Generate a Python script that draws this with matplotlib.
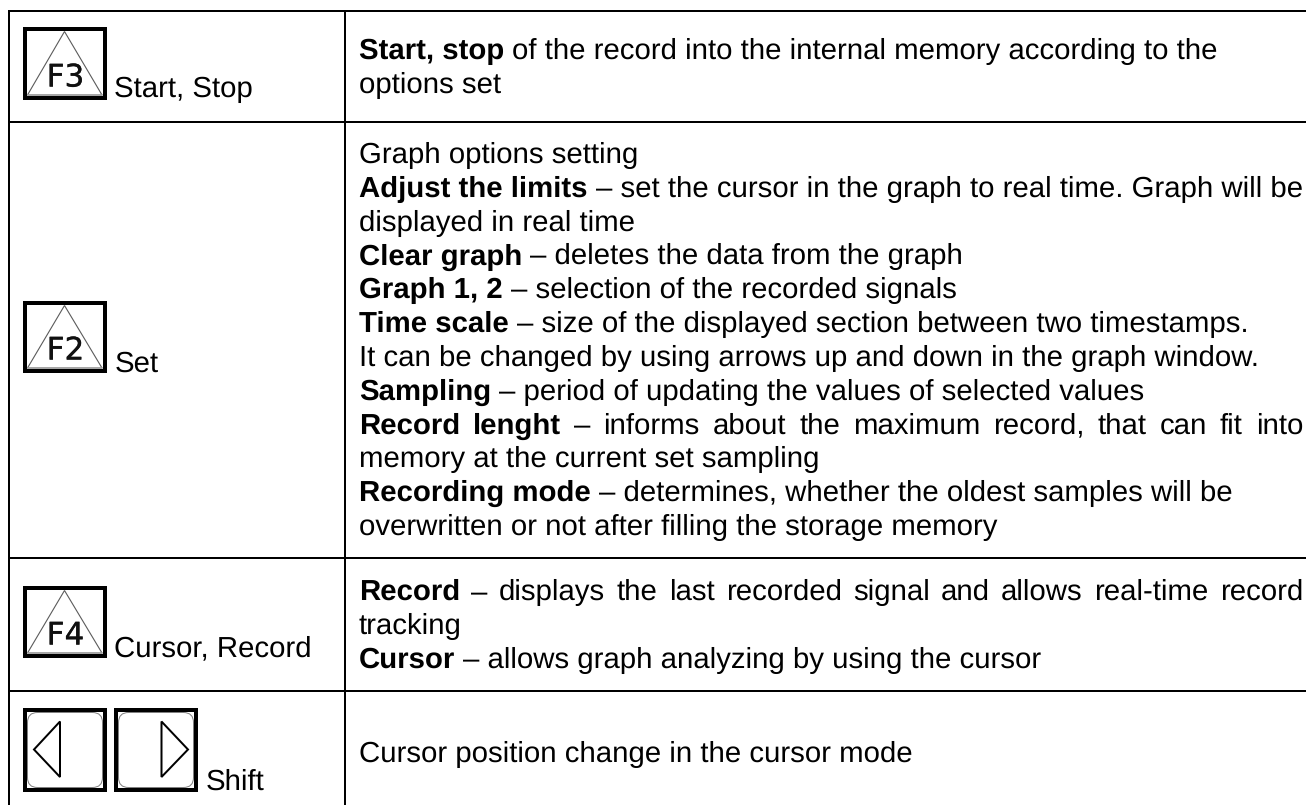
import matplotlib
matplotlib.use("Agg")
import matplotlib.pyplot as plt
import matplotlib.patheffects as pe
from matplotlib.patches import Polygon, Rectangle, FancyBboxPatch
from matplotlib.font_manager import FontProperties

plt.rcParams["text.hinting"] = "none"
plt.rcParams["text.hinting_factor"] = 8

# ---- table content ---- (bold lead-in, regular remainder, justified flag)
row1_lines = [
    ("Start, stop", " of the record into the internal memory according to the", False),
    ("", "options set", False),
]
row2_lines = [
    ("", "Graph options setting", False),
    ("Adjust the limits", " \u2013 set the cursor in the graph to real time. Graph will be", False),
    ("", "displayed in real time", False),
    ("Clear graph", " \u2013 deletes the data from the graph", False),
    ("Graph 1, 2", " \u2013 selection of the recorded signals", False),
    ("Time scale", " \u2013 size of the displayed section between two timestamps.", False),
    ("", "It can be changed by using arrows up and down in the graph window.", False),
    ("Sampling", " \u2013 period of updating the values of selected values", False),
    ("Record lenght", " \u2013 informs about the maximum record, that can fit into", True),
    ("", "memory at the current set sampling", False),
    ("Recording mode", " \u2013 determines, whether the oldest samples will be", False),
    ("", "overwritten or not after filling the storage memory", False),
]
row3_lines = [
    ("Record", " \u2013 displays the last recorded signal and allows real-time record", True),
    ("", "tracking", False),
    ("Cursor", " \u2013 allows graph analyzing by using the cursor", False),
]
row4_lines = [
    ("", "Cursor position change in the cursor mode", False),
]
key_labels = ["F3", "F2", "F4"]
side_labels = ["Start, Stop", "Set", "Cursor, Record", "Shift"]

# ---- layout in pixels ----
W, H = 1306, 805
LEFT, COL, TOP = 9, 344.7, 10.7
ROW_LINES = [122, 557.8, 691]
TEXT_X, TEXT_R = 359, 1303
LEAD = 33.8
FONT_PX = 29.35
PX = 72 / 100

fig = plt.figure(figsize=(W / 100, H / 100), dpi=100)
ax = fig.add_axes([0, 0, 1, 1])
ax.set_xlim(0, W)
ax.set_ylim(H, 0)
ax.axis("off")
renderer = fig.canvas.get_renderer()

reg = FontProperties(family="Liberation Sans", size=FONT_PX * PX)
bold = FontProperties(family="Liberation Sans", weight="bold", size=FONT_PX * PX)


def width(s, fp):
    return renderer.get_text_width_height_descent(s, fp, False)[0]


def put(x, y, s, fp):
    ax.text(x, y, s, fontproperties=fp, color="#000000", ha="left", va="baseline")


SPACE = FONT_PX * 0.278


def draw_line(y, lead, rest, just):
    rest = rest.strip()
    if not just:
        x = TEXT_X
        if lead:
            put(x, y, lead, bold)
            x += width(lead, bold) + SPACE
        put(x, y, rest, reg)
        return
    tokens = [(w, bold) for w in lead.split()] + [(w, reg) for w in rest.split()]
    total = sum(width(w, f) for w, f in tokens)
    gap = (TEXT_R - TEXT_X - total) / (len(tokens) - 1)
    x = TEXT_X
    for w, f in tokens:
        put(x, y, w, f)
        x += width(w, f) + gap


def draw_block(y0, lines):
    for i, (lead, rest, just) in enumerate(lines):
        draw_line(y0 + i * LEAD, lead, rest, just)


draw_block(58.7, row1_lines)
draw_block(163, row2_lines)
draw_block(600, row3_lines)
draw_block(761.7, row4_lines)

# grid lines
LW = 2 * PX
ax.plot([LEFT, W], [TOP, TOP], color="k", lw=LW, solid_capstyle="butt")
for y in ROW_LINES:
    ax.plot([LEFT, W], [y, y], color="k", lw=LW, solid_capstyle="butt")
ax.plot([LEFT, LEFT], [TOP - 1, H], color="k", lw=LW, solid_capstyle="butt")
ax.plot([COL, COL], [TOP - 1, H], color="k", lw=LW, solid_capstyle="butt")


def frame(x0, y0, x1, y1):
    ax.add_patch(Rectangle((x0 + 2, y0 + 2), x1 - x0 - 4, y1 - y0 - 4, fill=False,
                           ec="k", lw=4 * PX, joinstyle="miter"))


def f_key(y0, y1, label):
    x0, x1 = 23, 107
    frame(x0, y0, x1, y1)
    cx = (x0 + x1) / 2
    ax.add_patch(Polygon([(cx - 0.5, y0 + 4.5), (x1 - 5, y1 - 5), (x0 + 4.5, y1 - 5)], closed=True,
                         fill=False, ec="#5a5a5a", lw=1.1 * PX))
    ax.plot([x0 + 4.5, x1 - 5], [y1 - 5.2, y1 - 5.2], color="#a8a8a8", lw=1.6 * PX)
    ax.text(cx + 0.5, y1 - 13.5, label, family="DejaVu Sans", fontsize=31 * PX, color="#101010",
            ha="center", va="baseline",
            path_effects=[pe.withStroke(linewidth=0.35 * PX, foreground="#101010")])


f_key(27, 100, key_labels[0])
f_key(301, 373, key_labels[1])
f_key(586, 658, key_labels[2])


def arrow_key(x0, direction):
    y0, y1 = 708, 792
    x1 = x0 + 84
    frame(x0, y0, x1, y1)
    ax.add_patch(FancyBboxPatch((x0 + 4.5, y0 + 4.5), x1 - x0 - 9, y1 - y0 - 9,
                                boxstyle="round,pad=0,rounding_size=10", fill=False,
                                ec="#808080", lw=1.0 * PX))
    if direction < 0:
        pts = [(x0 + 37, 721.5), (x0 + 11, 749.5), (x0 + 37, 777)]
    else:
        pts = [(x0 + 47.5, 721.5), (x0 + 74, 749.5), (x0 + 47.5, 777)]
    ax.add_patch(Polygon(pts, closed=True, fill=False, ec="k", lw=2 * PX, joinstyle="miter"))


arrow_key(23, -1)
arrow_key(114, 1)

# side labels next to the keys
put(114.5, 96.7, side_labels[0], reg)
put(114.5, 371.7, side_labels[1], reg)
put(114.5, 656.7, side_labels[2], reg)
put(205.5, 790, side_labels[3], reg)

fig.savefig("out.png", dpi=100, facecolor="white")
